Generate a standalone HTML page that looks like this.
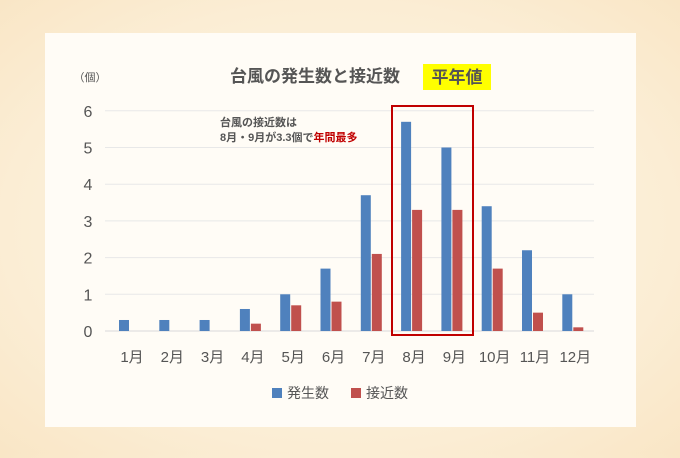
<!DOCTYPE html>
<html><head><meta charset="utf-8">
<style>
html,body{margin:0;padding:0;}
body{width:680px;height:453px;overflow:hidden;background:radial-gradient(ellipse at 50% 50%,#fdf6e6 0%,#fbedd4 70%,#f9e6c6 100%);font-family:"Liberation Sans","Noto Sans CJK JP",sans-serif;}
</style></head>
<body>
<svg width="680" height="453" xmlns="http://www.w3.org/2000/svg">
<rect x="45" y="33" width="591" height="394" fill="#fffcf6"/>
<text x="90" y="81" font-size="11" fill="#555" text-anchor="middle">（個）</text>
<text x="315" y="82" font-size="17" font-weight="bold" fill="#555" text-anchor="middle">台風の発生数と接近数</text>
<rect x="423" y="64" width="68" height="26" fill="#ffff00"/>
<text x="457" y="83" font-size="17" font-weight="bold" fill="#555" text-anchor="middle">平年値</text>
<g id="grid"></g>
<g id="bars"></g>
<g id="labels"></g>
<rect x="392" y="106" width="81" height="229" fill="none" stroke="#c00000" stroke-width="2"/>
<text x="220" y="126" font-size="11" font-weight="bold" fill="#555">台風の接近数は</text>
<text x="220" y="141" font-size="11" font-weight="bold" fill="#555">8月・9月が3.3個で<tspan fill="#c00000">年間最多</tspan></text>
<rect x="272" y="388" width="10" height="10" fill="#4f81bd"/>
<text x="287" y="398" font-size="14" fill="#555">発生数</text>
<rect x="351" y="388" width="10" height="10" fill="#c0504d"/>
<text x="366" y="398" font-size="14" fill="#555">接近数</text>
</svg>
<script>
const categories=["1月","2月","3月","4月","5月","6月","7月","8月","9月","10月","11月","12月"];
const occurrence=[0.3,0.3,0.3,0.6,1.0,1.7,3.7,5.7,5.0,3.4,2.2,1.0];
const approach=[0,0,0,0.2,0.7,0.8,2.1,3.3,3.3,1.7,0.5,0.1];
const yTicks=[0,1,2,3,4,5,6];
const NS="http://www.w3.org/2000/svg";
const y0=331,unit=36.7,x0=131,step=40.3;
function yScale(v){return y0-v*unit;}
function xScale(i){return x0+i*step;}
const grid=document.getElementById('grid'),bars=document.getElementById('bars'),labels=document.getElementById('labels');
yTicks.forEach(t=>{
  const l=document.createElementNS(NS,'line');
  l.setAttribute('x1',105);l.setAttribute('x2',594);l.setAttribute('y1',yScale(t));l.setAttribute('y2',yScale(t));
  l.setAttribute('stroke',t===0?'#d9d9d9':'#e8e8e8');l.setAttribute('stroke-width',1);
  
  
  grid.appendChild(l);
  const tx=document.createElementNS(NS,'text');
  tx.setAttribute('x',88);tx.setAttribute('y',yScale(t)+6);tx.setAttribute('font-size',16);tx.setAttribute('fill','#555');tx.setAttribute('text-anchor','middle');
  tx.textContent=t;
  
  
  labels.appendChild(tx);
});
categories.forEach((c,i)=>{
  const cx=xScale(i);
  const b=document.createElementNS(NS,'rect');
  b.setAttribute('x',cx-12);b.setAttribute('width',10);b.setAttribute('y',yScale(occurrence[i]));b.setAttribute('height',y0-yScale(occurrence[i]));b.setAttribute('fill','#4f81bd');
  
  
  bars.appendChild(b);
  const r=document.createElementNS(NS,'rect');
  r.setAttribute('x',cx-1);r.setAttribute('width',10);r.setAttribute('y',yScale(approach[i]));r.setAttribute('height',y0-yScale(approach[i]));r.setAttribute('fill','#c0504d');
  
  
  bars.appendChild(r);
  const t=document.createElementNS(NS,'text');
  t.setAttribute('x',cx+1);t.setAttribute('y',362);t.setAttribute('font-size',15);t.setAttribute('fill','#555');t.setAttribute('text-anchor','middle');
  t.textContent=c;
  
  
  labels.appendChild(t);
});
</script>
</body></html>
